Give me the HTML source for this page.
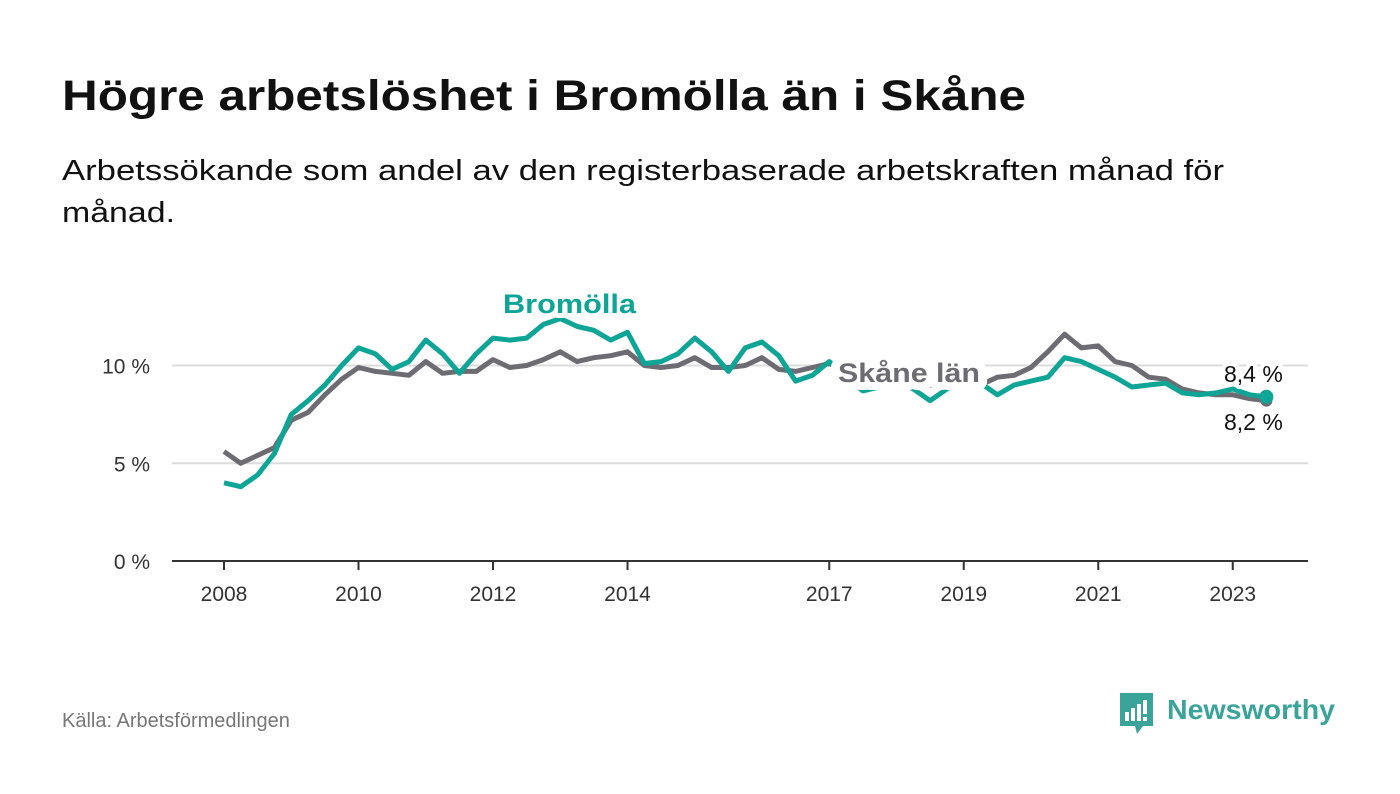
<!DOCTYPE html>
<html><head><meta charset="utf-8"><style>
body{margin:0;background:#fff;}
svg{display:block;font-family:"Liberation Sans",sans-serif;}
</style></head><body>
<svg id="chart" width="1400" height="794" viewBox="0 0 1400 794">
<text x="62" y="110" font-size="43" font-weight="bold" fill="#111" textLength="964" lengthAdjust="spacingAndGlyphs">Högre arbetslöshet i Bromölla än i Skåne</text>
<text x="62" y="180" font-size="29" fill="#111" textLength="1162" lengthAdjust="spacingAndGlyphs">Arbetssökande som andel av den registerbaserade arbetskraften månad för</text>
<text x="62" y="222" font-size="29" fill="#111" textLength="113" lengthAdjust="spacingAndGlyphs">månad.</text>
<g id="grid"></g>
<g id="lines"></g>
<g id="labels"></g>
<text x="62" y="727" font-size="20" fill="#777">Källa: Arbetsförmedlingen</text>
<g>
<path d="M1120 693 h33 v33 h-10 l-6 8 l-2 -8 h-15 z" fill="#3aa39a"/>
<rect x="1125" y="712" width="4" height="9" fill="#fff"/>
<rect x="1131" y="708" width="4" height="13" fill="#fff"/>
<rect x="1137" y="704" width="4" height="17" fill="#fff"/>
<rect x="1143" y="700" width="4" height="14" fill="#fff"/>
<rect x="1143" y="717" width="4" height="4" fill="#fff"/>
<text x="1167" y="719" font-size="28" font-weight="bold" fill="#3aa39a" textLength="168" lengthAdjust="spacingAndGlyphs">Newsworthy</text>
</g>
</svg>
<script>
const yearTicks=[2008,2010,2012,2014,2017,2019,2021,2023];
const yTicks=[0,5,10];
const startYear=2008;
const step=0.25;
const skane=[5.6,5.0,5.4,5.8,7.2,7.6,8.5,9.3,9.9,9.7,9.6,9.5,10.2,9.6,9.7,9.7,10.3,9.9,10.0,10.3,10.7,10.2,10.4,10.5,10.7,10.0,9.9,10.0,10.4,9.9,9.9,10.0,10.4,9.8,9.7,9.9,10.1,9.7,9.6,9.5,9.3,9.2,9.0,8.9,8.9,9.0,9.4,9.5,9.9,10.7,11.6,10.9,11.0,10.2,10.0,9.4,9.3,8.8,8.6,8.5,8.5,8.3,8.2];
const bromolla=[4.0,3.8,4.4,5.5,7.5,8.2,9.0,10.0,10.9,10.6,9.8,10.2,11.3,10.6,9.6,10.6,11.4,11.3,11.4,12.1,12.4,12.0,11.8,11.3,11.7,10.1,10.2,10.6,11.4,10.7,9.7,10.9,11.2,10.5,9.2,9.5,10.2,9.4,8.7,8.9,9.2,8.8,8.2,8.8,9.2,9.1,8.5,9.0,9.2,9.4,10.4,10.2,9.8,9.4,8.9,9.0,9.1,8.6,8.5,8.6,8.8,8.5,8.4];
const NS="http://www.w3.org/2000/svg";
const X=y=>224+(y-2008)*67.25;
const Y=v=>561-v*19.55;
function mk(tag,attrs,parent){const e=document.createElementNS(NS,tag);for(const k in attrs)e.setAttribute(k,attrs[k]);parent.appendChild(e);return e;}
const grid=document.getElementById('grid'),lines=document.getElementById('lines'),labels=document.getElementById('labels');
yTicks.forEach(t=>{
 if(t>0){const g=mk('line',{x1:172,x2:1308,y1:Y(t),y2:Y(t),stroke:'#dcdcdc','stroke-width':2},grid);
 
 }
 const l=mk('text',{x:150,y:Y(t)+8,'font-size':21,fill:'#333','text-anchor':'end'},grid);l.textContent=t+' %';
 
 
});
const ax=mk('line',{x1:172,x2:1308,y1:561,y2:561,stroke:'#333','stroke-width':2},grid);


yearTicks.forEach(yr=>{
 const t=mk('line',{x1:X(yr),x2:X(yr),y1:561,y2:570,stroke:'#333','stroke-width':2},grid);
 
 
 const l=mk('text',{x:X(yr),y:601,'font-size':21,fill:'#333','text-anchor':'middle'},grid);l.textContent=yr;
 
 
});
function path(arr){return arr.map((v,i)=>(i?'L':'M')+X(startYear+i*step).toFixed(1)+' '+Y(v).toFixed(1)).join(' ');}
const ps=mk('path',{d:path(skane),fill:'none',stroke:'#6e6c73','stroke-width':5,'stroke-linejoin':'round'},lines);


const pb=mk('path',{d:path(bromolla),fill:'none',stroke:'#0ea596','stroke-width':5,'stroke-linejoin':'round'},lines);


const li=skane.length-1;
const d1=mk('circle',{cx:X(startYear+li*step),cy:Y(skane[li]),r:6,fill:'#6e6c73'},lines);


const d2=mk('circle',{cx:X(startYear+li*step),cy:Y(bromolla[li]),r:7,fill:'#0ea596'},lines);


function lab(txt,x,y,fill,name,bold,size,sw,len){const a={x:x,y:y,'font-size':size,fill:fill,'font-weight':bold?'bold':'normal',stroke:'#fff','stroke-width':sw,'paint-order':'stroke','stroke-linejoin':'round'};if(len){a.textLength=len;a.lengthAdjust='spacingAndGlyphs';}const t=mk('text',a,labels);t.textContent=txt;
 
 return t;}
lab('Bromölla',503,313,'#0ea596','bromolla-label',true,27,10,133);
lab('Skåne län',838,382,'#6e6c73','skane-label',true,27,16,142);
lab('8,4 %',1224,382,'#111','bromolla-end-value',false,23,8);
lab('8,2 %',1224,430,'#111','skane-end-value',false,23,8);
</script>
</body></html>
